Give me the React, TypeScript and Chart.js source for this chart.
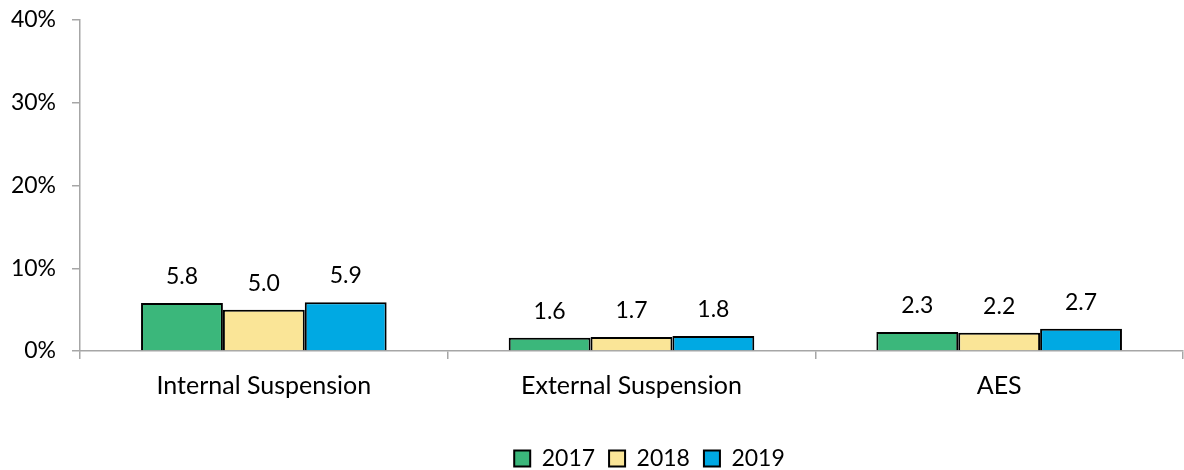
import React, { useEffect, useRef } from "react";
import { Chart, registerables } from "chart.js";

Chart.register(...registerables);

const categories = ["Internal Suspension", "External Suspension", "AES"];
const seriesNames = ["2017", "2018", "2019"];
const values2017 = [5.8, 1.6, 2.3];
const values2018 = [5.0, 1.7, 2.2];
const values2019 = [5.9, 1.8, 2.7];
const colors = ["#3BB77B", "#FAE597", "#00A9E3"];
const yTicks = [0, 10, 20, 30, 40];

const FONT = "Lato, 'Open Sans', sans-serif";
const AXIS = "#A6A6A6";

const labelPlugin = {
  id: "barLabels",
  afterLayout(chart: any) {
    const lg = chart.legend;
    if (lg) {
      lg.top += 10;
      lg.bottom += 10;
      lg.left += 58;
      lg.right += 58;
    }
  },
  afterDatasetsDraw(chart: any) {
    const ctx = chart.ctx;
    ctx.save();
    ctx.font = `23px ${FONT}`;
    ctx.fillStyle = "#000";
    ctx.textAlign = "center";
    ctx.textBaseline = "alphabetic";
    chart.data.datasets.forEach((ds: any, i: number) => {
      const meta = chart.getDatasetMeta(i);
      meta.data.forEach((el: any, j: number) => {
        ctx.fillText(Number(ds.data[j]).toFixed(1), el.x, el.y - 19);
      });
    });
    ctx.restore();
  },
};

export default function App() {
  const ref = useRef<HTMLCanvasElement>(null);
  useEffect(() => {
    document.body.style.margin = "0";
    const all = [values2017, values2018, values2019];
    const chart = new Chart(ref.current!, {
      type: "bar",
      data: {
        labels: categories,
        datasets: seriesNames.map((n, i) => ({
          label: n,
          data: all[i],
          backgroundColor: colors[i],
          borderColor: "#000",
          borderWidth: 2,
          barPercentage: 1,
          categoryPercentage: 0.668,
        })),
      },
      options: {
        animation: false,
        responsive: false,
        maintainAspectRatio: false,
        layout: { padding: { top: 20, right: 1, left: 0, bottom: 0 } },
        plugins: {
          tooltip: { enabled: false },
          legend: {
            position: "bottom",
            labels: {
              font: { family: FONT, size: 23 },
              color: "#000",
              boxWidth: 16,
              boxHeight: 16,
              padding: 14,
            },
          },
        },
        scales: {
          x: {
            grid: {
              offset: true,
              drawOnChartArea: false,
              tickLength: 8,
              color: AXIS,
              lineWidth: 1.5,
            },
            border: { color: AXIS, width: 1.5 },
            ticks: {
              font: { family: FONT, size: 25 },
              color: "#000",
              padding: 12,
              maxRotation: 0,
            },
            afterFit: (s: any) => {
              s.height = 72;
            },
          },
          y: {
            min: 0,
            max: 40,
            afterBuildTicks: (s: any) => {
              s.ticks = yTicks.map((v) => ({ value: v }));
            },
            grid: {
              drawOnChartArea: false,
              tickLength: 8,
              color: AXIS,
              lineWidth: 1.5,
            },
            border: { color: AXIS, width: 1.5 },
            ticks: {
              font: { family: FONT, size: 23 },
              color: "#000",
              padding: 16,
              callback: (v: any) => `${v}%`,
            },
            afterFit: (s: any) => {
              s.width = 80;
              s.paddingTop = 10;
              s.paddingBottom = 10;
            },
          },
        },
      },
      plugins: [labelPlugin],
    });
    return () => chart.destroy();
  }, []);
  return (
    <div style={{ width: 1184, height: 470 }}>
      <canvas ref={ref} width={1184} height={470} />
    </div>
  );
}
